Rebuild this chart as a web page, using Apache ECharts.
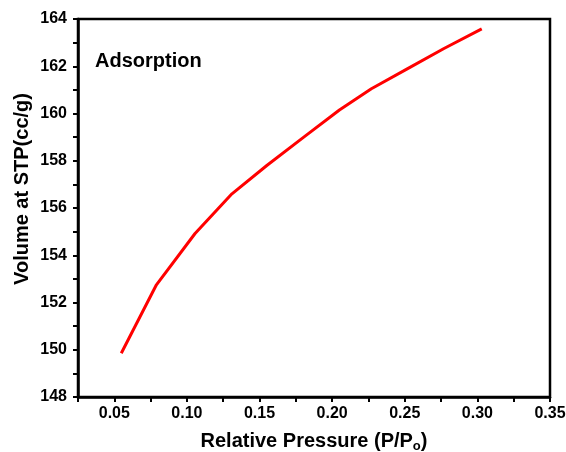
<!DOCTYPE html>
<html>
<head>
<meta charset="utf-8">
<script src="https://cdn.jsdelivr.net/npm/echarts@6/dist/echarts.min.js"></script>
<style>
  html, body { margin: 0; padding: 0; background: #fff; }
  #container { width: 566px; height: 452px; }
</style>
</head>
<body>
<div id="container"></div>
<script>
// adsorption branch
var pressure = [0.0548, 0.0790, 0.1056, 0.1310, 0.1550, 0.1800, 0.2050, 0.2270, 0.2520, 0.2770, 0.3030];
var volume = [149.85, 152.75, 154.92, 156.60, 157.80, 158.98, 160.15, 161.05, 161.90, 162.75, 163.58];

var xMin = 0.025, xMax = 0.35, xStep = 0.025;
var yMin = 148, yMax = 164, yStep = 1;

var points = [];
for (var i = 0; i < pressure.length; i++) {
    points.push([pressure[i], volume[i]]);
}

var font = 'Liberation Sans, Arial, sans-serif';
var myChart = echarts.init(document.getElementById('container'));

var option = {
    backgroundColor: '#fff',
    animation: false,
    title: {
        text: 'Adsorption',
        left: 90,
        top: 46,
        textStyle: { fontFamily: font, fontSize: 20, fontWeight: 'bold', color: '#000' }
    },
    grid: {
        left: 78,
        right: 16,
        top: 19,
        bottom: 55,
        outerBoundsMode: 'none',
        containLabel: false,
        show: true,
        borderColor: '#000',
        borderWidth: 2.5
    },
    xAxis: {
        type: 'value',
        min: xMin,
        max: xMax,
        interval: xStep,
        splitLine: { show: false },
        axisLine: { lineStyle: { color: '#000', width: 2.5 } },
        axisTick: { inside: false, length: 5, lineStyle: { color: '#000', width: 2 } },
        axisLabel: {
            margin: 9,
            color: '#000',
            fontFamily: font,
            fontSize: 16,
            fontWeight: 'bold',
            formatter: function (v) {
                return Math.round(v * 1000) % 50 === 0 ? v.toFixed(2) : '';
            }
        },
        name: '{a|Relative Pressure (P/P}{s|o}{a|)}',
        nameLocation: 'middle',
        nameGap: 33,
        nameMoveOverlap: false,
        nameTextStyle: {
            rich: {
                a: { fontFamily: font, fontSize: 20, fontWeight: 'bold', color: '#000' },
                s: { fontFamily: font, fontSize: 13, fontWeight: 'bold', color: '#000', verticalAlign: 'bottom', padding: [10, 0, 0, 0] }
            }
        }
    },
    yAxis: {
        type: 'value',
        min: yMin,
        max: yMax,
        interval: yStep,
        splitLine: { show: false },
        axisLine: { lineStyle: { color: '#000', width: 2.5 } },
        axisTick: { inside: false, length: 5, lineStyle: { color: '#000', width: 2 } },
        axisLabel: {
            margin: 11,
            color: '#000',
            fontFamily: font,
            fontSize: 16,
            fontWeight: 'bold',
            formatter: function (v) {
                return v % 2 === 0 ? String(v) : '';
            }
        },
        name: 'Volume at STP(cc/g)',
        nameLocation: 'middle',
        nameGap: 46,
        nameMoveOverlap: false,
        nameTextStyle: { fontFamily: font, fontSize: 20, fontWeight: 'bold', color: '#000', padding: [0, 0, 0, 38] }
    },
    series: [
        {
            name: 'Adsorption',
            type: 'line',
            data: points,
            showSymbol: false,
            lineStyle: { color: '#ff0000', width: 3 }
        }
    ]
};
myChart.setOption(option);
</script>
</body>
</html>
